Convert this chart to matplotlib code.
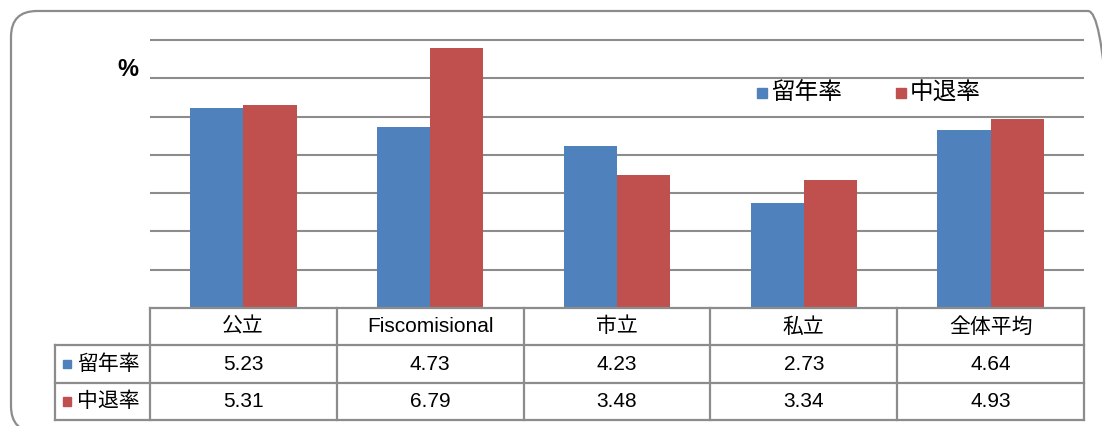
import matplotlib
matplotlib.use("Agg")
import matplotlib.pyplot as plt
from matplotlib.patches import FancyBboxPatch, Rectangle
import numpy as np

plt.rcParams['font.family'] = ['Liberation Sans', 'Noto Sans CJK JP', 'DejaVu Sans']

categories = ['公立', 'Fiscomisional', '市立', '私立', '全体平均']
series_names = ['留年率', '中退率']
repeat_rate = [5.23, 4.73, 4.23, 2.73, 4.64]
dropout_rate = [5.31, 6.79, 3.48, 3.34, 4.93]
colors = ['#4F81BD', '#C0504D']
grid_col = '#8c8c8c'

W, H = 1102, 426
fig = plt.figure(figsize=(W / 100, H / 100), dpi=100)


def fbox(x0, y0, x1, y1):
    # pixel box (top-left origin) -> figure fraction rect
    return [x0 / W, 1 - y1 / H, (x1 - x0) / W, (y1 - y0) / H]


# background layer in pixel units (y up), for the rounded frame and legend keys
bg = fig.add_axes([0, 0, 1, 1])
bg.set_xlim(0, W)
bg.set_ylim(0, H)
bg.axis('off')
bg.add_patch(FancyBboxPatch((11, H - 432), 1114 - 11, 432 - 11,
                            boxstyle="round,pad=0,rounding_size=26",
                            fill=False, edgecolor=grid_col, linewidth=1.6))

# bar chart
ax = fig.add_axes(fbox(150, 38.1, 1084, 308))
x = np.arange(len(categories))
bw = 0.285
ax.bar(x - bw / 2, repeat_rate, bw, color=colors[0], zorder=3)
ax.bar(x + bw / 2, dropout_rate, bw, color=colors[1], zorder=3)
ax.set_xlim(-0.5, len(categories) - 0.5)
ax.set_ylim(0, 7.05)
ax.set_yticks(range(1, 8))
ax.yaxis.grid(True, color=grid_col, linewidth=1.5, zorder=0)
ax.tick_params(left=False, bottom=False, labelleft=False, labelbottom=False)
ax.patch.set_alpha(0)
for s in ax.spines.values():
    s.set_visible(False)

bg.text(128, H - 70, '%', fontsize=17, fontweight='bold', ha='center', va='center')

# legend
for i, (name, xl) in enumerate(zip(series_names, [757, 896])):
    bg.add_patch(Rectangle((xl, H - 98), 10, 10, color=colors[i]))
    bg.text(xl + 14, H - 93, name, fontsize=17, ha='left', va='center')

# data table below the bars
tab = fig.add_axes(fbox(55, 308, 1084, 420))
left = -0.5 - (150 - 55) / 187
n = len(categories)
tab.set_xlim(left, n - 0.5)
tab.set_ylim(3, 0)
tab.axis('off')
lk = dict(color=grid_col, linewidth=1.6, clip_on=False)
tab.plot([-0.5, n - 0.5], [0, 0], **lk)
for yy in [1, 2, 3]:
    tab.plot([left, n - 0.5], [yy, yy], **lk)
tab.plot([left, left], [1, 3], **lk)
for i in range(n + 1):
    tab.plot([i - 0.5, i - 0.5], [0, 3], **lk)

for i, cat in enumerate(categories):
    tab.text(i, 0.5, cat, fontsize=15, ha='center', va='center')
    tab.text(i, 1.5, f'{repeat_rate[i]:.2f}', fontsize=15, ha='center', va='center')
    tab.text(i, 2.5, f'{dropout_rate[i]:.2f}', fontsize=15, ha='center', va='center')

for r, name in enumerate(series_names):
    tab.add_patch(Rectangle((left + 8 / 187, r + 1.5 - 0.12), 8 / 187, 0.24,
                            color=colors[r], clip_on=False))
    tab.text(left + 22 / 187, r + 1.5, name, fontsize=15, ha='left', va='center')

fig.savefig('out.png', dpi=100)
